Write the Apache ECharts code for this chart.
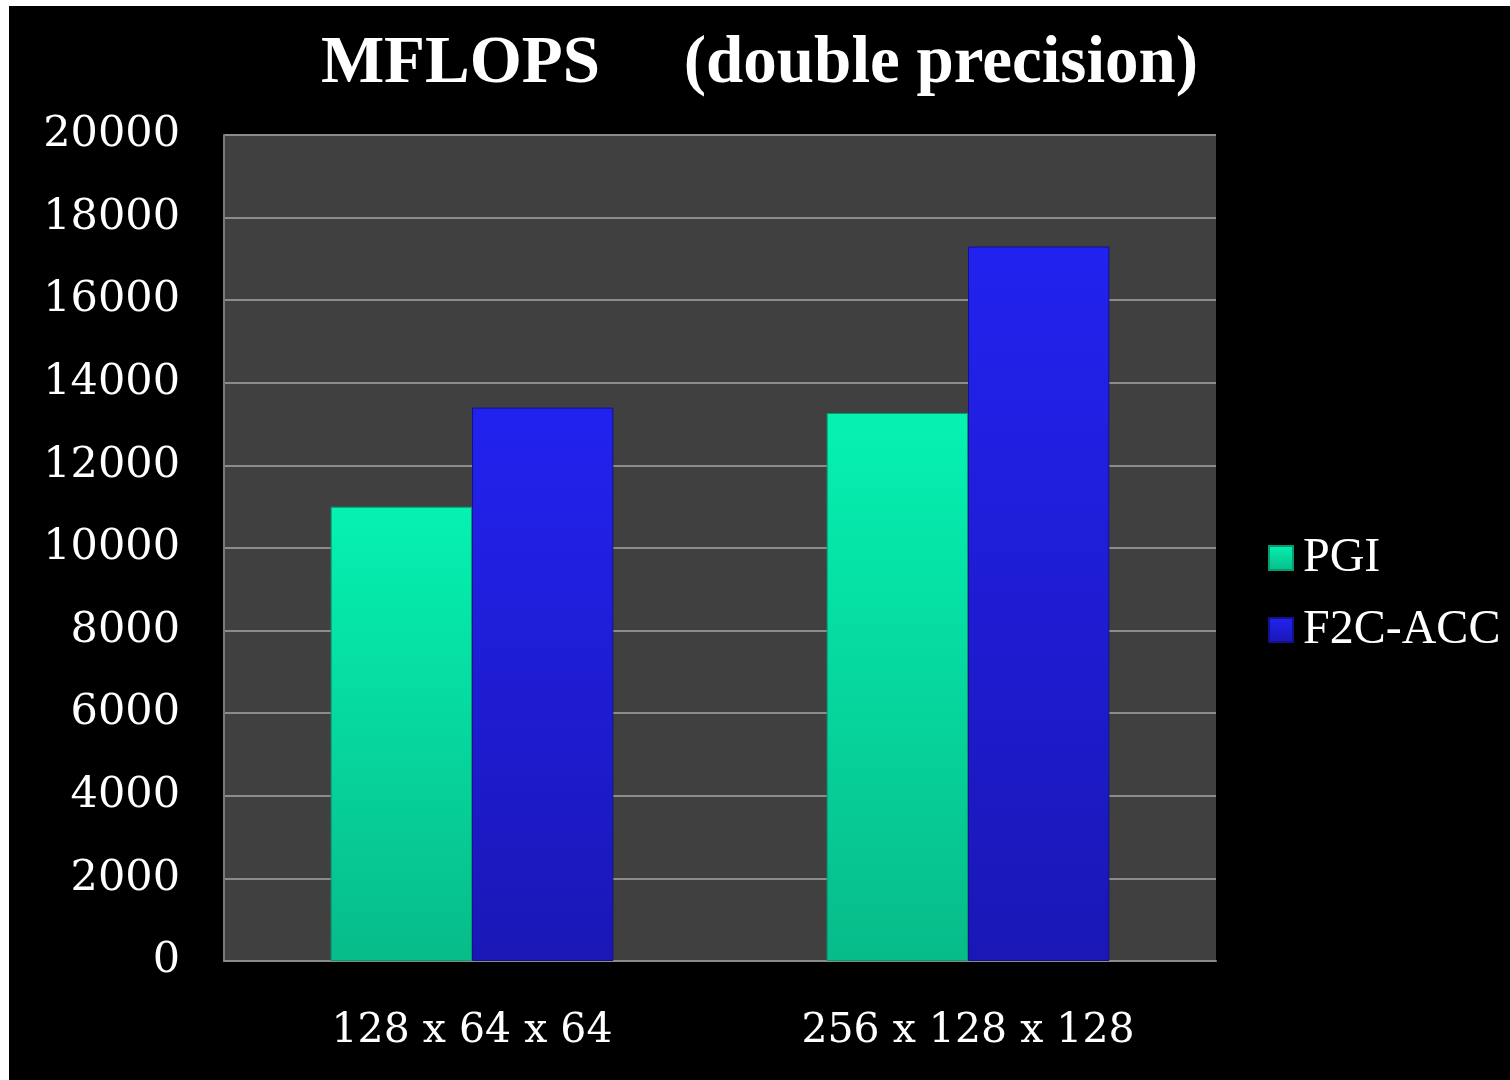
<!DOCTYPE html>
<html>
<head>
<meta charset="utf-8">
<script src="https://cdn.jsdelivr.net/npm/echarts@6/dist/echarts.min.js"></script>
<style>
  html, body { margin: 0; padding: 0; background: #ffffff; width: 1510px; height: 1080px; overflow: hidden; }
  #chart { position: absolute; left: 9px; top: 6px; width: 1501px; height: 1074px; background: #000000; }
</style>
</head>
<body>
<div id="chart"></div>
<script>
const titleText = 'MFLOPS     (double precision)';
const categories = ['128 x 64 x 64', '256 x 128 x 128'];
const seriesNames = ['PGI', 'F2C-ACC'];
const pgiValues = [11000, 13270];
const f2cValues = [13400, 17300];
const yMin = 0, yMax = 20000, yInterval = 2000;

const chart = echarts.init(document.getElementById('chart'), null, { renderer: 'canvas' });

function grad(top, bottom) {
  return new echarts.graphic.LinearGradient(0, 0, 0, 1, [
    { offset: 0, color: top },
    { offset: 1, color: bottom }
  ]);
}
const pgiFill = grad('#05F2B2', '#07BC89');
const f2cFill = grad('#2222F0', '#1A17B6');

const option = {
  backgroundColor: '#000000',
  animation: false,
  title: {
    text: titleText,
    left: 'center',
    top: 20,
    textStyle: {
      color: '#ffffff',
      fontFamily: 'Liberation Serif',
      fontWeight: 'bold',
      fontSize: 67
    }
  },
  legend: {
    orient: 'vertical',
    left: 1254,
    top: 523,
    itemWidth: 24,
    itemHeight: 24,
    itemGap: 24,
    icon: 'rect',
    textStyle: {
      color: '#ffffff',
      fontFamily: 'Liberation Serif',
      fontSize: 48,
      lineHeight: 48,
      padding: [0, 0, 0, 5]
    },
    data: seriesNames
  },
  grid: {
    left: 215,
    top: 129,
    right: 294,
    bottom: 119,
    show: true,
    backgroundColor: '#404040',
    borderWidth: 0
  },
  xAxis: {
    type: 'category',
    data: categories,
    axisTick: { show: false },
    axisLine: { show: true, lineStyle: { color: '#8a8a8a', width: 2 } },
    axisLabel: {
      color: '#ffffff',
      fontFamily: 'DejaVu Serif',
      fontSize: 41,
      margin: 50
    }
  },
  yAxis: {
    type: 'value',
    min: yMin,
    max: yMax,
    interval: yInterval,
    axisLine: { show: true, lineStyle: { color: '#7a7a7a', width: 2 } },
    axisTick: { show: false },
    splitLine: { show: true, lineStyle: { color: '#8c8c8c', width: 2 } },
    axisLabel: {
      color: '#ffffff',
      fontFamily: 'DejaVu Serif',
      fontSize: 43,
      margin: 44,
      padding: [6, 0, 0, 0],
      formatter: function (v) { return String(v); }
    }
  },
  series: [
    {
      name: seriesNames[0],
      type: 'bar',
      data: pgiValues,
      barGap: '0%',
      barCategoryGap: '43%',
      itemStyle: { color: pgiFill, borderColor: '#069a70', borderWidth: 1 }
    },
    {
      name: seriesNames[1],
      type: 'bar',
      data: f2cValues,
      barGap: '0%',
      barCategoryGap: '43%',
      itemStyle: { color: f2cFill, borderColor: '#12108a', borderWidth: 1 }
    }
  ]
};
chart.setOption(option);
</script>
</body>
</html>
